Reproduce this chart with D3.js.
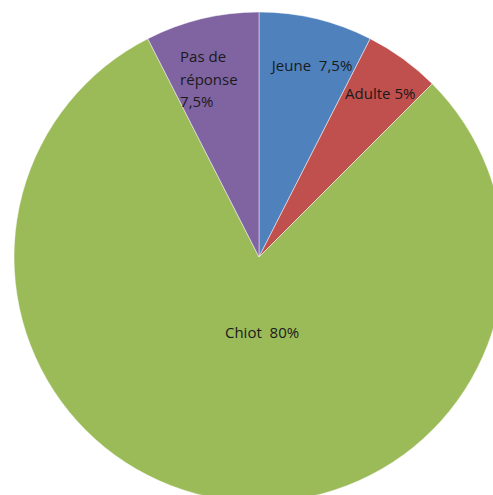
<!DOCTYPE html>
<html>
<head>
<meta charset="utf-8">
<script src="https://cdn.jsdelivr.net/npm/d3@7"></script>
<style>
  html, body { margin: 0; padding: 0; background: #fff; overflow: hidden; }
  svg { display: block; }
</style>
</head>
<body>
<script>
// categories and values (clockwise from 12 o'clock)
const categories = ['Jeune', 'Adulte', 'Chiot', 'Pas de réponse'];
const values = [7.5, 5, 80, 7.5];
const labelTexts = [['Jeune  7,5%'], ['Adulte 5%'], ['Chiot  80%'], ['Pas de', 'réponse', '7,5%']];

const colors = ['#4f81bd', '#c0504d', '#9bbb59', '#8064a2'];

// where each label sits: fraction of radius, angle nudge in degrees, anchor
const labelPlace = [
  { r: 0.81, da: 2, anchor: 'middle' },
  { r: 0.83, da: 0.6, anchor: 'middle' },
  { r: 0.31, da: -11.3, anchor: 'middle' },
  { r: 0.755, da: -2.8, anchor: 'start', dx: -27 }
];

const width = 493, height = 495;
const cx = 259, cy = 257, radius = 245;

const svg = d3.select('body').append('svg')
  .attr('width', width)
  .attr('height', height);

const g = svg.append('g')
  .attr('transform', 'translate(' + cx + ',' + cy + ')');

const pie = d3.pie().sort(null).value(d => d);
const arcs = pie(values);

const arc = d3.arc().innerRadius(0).outerRadius(radius);

g.selectAll('path.slice')
  .data(arcs)
  .enter()
  .append('path')
  .attr('class', 'slice')
  .attr('d', arc)
  .attr('fill', (d, i) => colors[i])
  .attr('stroke', '#ffffff')
  .attr('stroke-opacity', 0.6)
  .attr('stroke-width', 0.8);

const lineH = 22.5;
const labels = g.selectAll('text.lbl')
  .data(arcs)
  .enter()
  .append('text')
  .attr('class', 'lbl')
  .attr('font-family', '"Open Sans", "DejaVu Sans", sans-serif')
  .attr('font-size', 15)
  .attr('fill', '#1a1a1a')
  .attr('text-anchor', (d, i) => labelPlace[i].anchor)
  .attr('transform', (d, i) => {
    const p = labelPlace[i];
    const a = (d.startAngle + d.endAngle) / 2 + p.da * Math.PI / 180;
    const rr = radius * p.r;
    const x = Math.sin(a) * rr + (p.dx || 0);
    const y = -Math.cos(a) * rr;
    return 'translate(' + x + ',' + y + ')';
  });

labels.each(function(d, i) {
  const lines = labelTexts[i];
  const t = d3.select(this);
  const y0 = -(lines.length - 1) * lineH / 2;
  lines.forEach((s, k) => {
    t.append('tspan')
      .attr('x', 0)
      .attr('y', y0 + k * lineH)
      .attr('dy', '0.35em')
      .attr('xml:space', 'preserve')
      .text(s);
  });
});
</script>
</body>
</html>
